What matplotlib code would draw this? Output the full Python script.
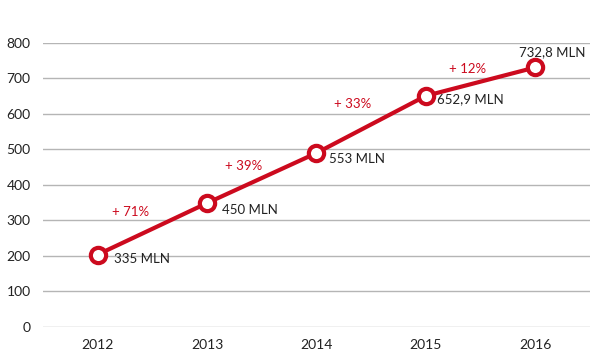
import matplotlib.pyplot as plt

plt.rcParams['font.family'] = ['Lato', 'DejaVu Sans']

years = [2012, 2013, 2014, 2015, 2016]
values = [204, 349, 490, 651, 731]
value_labels = ['335 MLN', '450 MLN', '553 MLN', '652,9 MLN', '732,8 MLN']
growth_labels = ['+ 71%', '+ 39%', '+ 33%', '+ 12%']
growth_x = [2012.3, 2013.33, 2014.33, 2015.38]
growth_y = [324, 453, 627, 727]

red = '#cc0a1e'

fig = plt.figure(figsize=(6, 3.6), dpi=100)
ax = fig.add_axes([0.0717, 0.0917, 0.9113, 0.7889])

ax.plot(years, values, color=red, linewidth=3, marker='o', markersize=11,
        markerfacecolor='white', markeredgecolor=red, markeredgewidth=3,
        zorder=3, solid_capstyle='round')

# offsets in points
offsets = [(12, -3), (11, -5), (9, -4), (8, -2), (12, 11)]
for i, (x, y, lab) in enumerate(zip(years, values, value_labels)):
    ha = 'center' if i == len(years) - 1 else 'left'
    ax.annotate(lab, (x, y), xytext=offsets[i], textcoords='offset points',
                ha=ha, va='center', fontsize=9.5, color='#222222')

for x, y, lab in zip(growth_x, growth_y, growth_labels):
    ax.text(x, y, lab, ha='center', va='center', fontsize=9.5, color=red)

ax.set_xlim(2011.5, 2016.5)
ax.set_ylim(0, 800)
ax.set_xticks(years)
ax.set_yticks(range(0, 801, 100))
ax.grid(axis='y', color='#b5b5b5', linewidth=1)
ax.set_axisbelow(True)
for s in ax.spines.values():
    s.set_visible(False)
ax.tick_params(length=0, labelsize=10, colors='#222222')
ax.tick_params(axis='y', pad=9)
ax.tick_params(axis='x', pad=9)

fig.savefig('out.png', dpi=100)
